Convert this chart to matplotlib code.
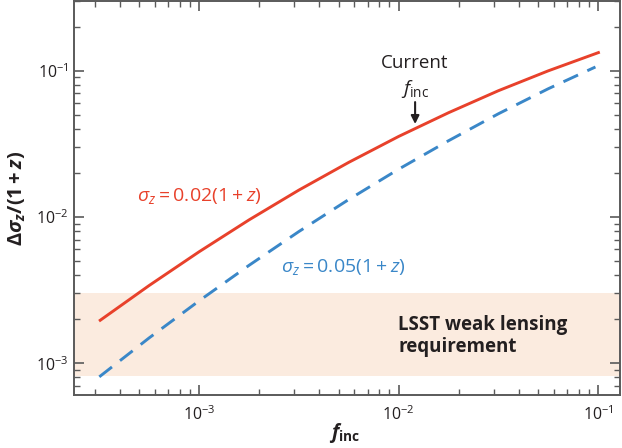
import matplotlib
matplotlib.use("Agg")
import matplotlib.pyplot as plt

# Valores
f_inc_002 = [3.15e-4, 5.62e-4, 1.0e-3, 1.78e-3, 3.16e-3, 5.62e-3, 1.0e-2, 1.78e-2,
             3.16e-2, 5.62e-2, 0.102]
dsig_002 = [1.94e-3, 3.40e-3, 5.78e-3, 9.55e-3, 1.525e-2, 2.36e-2, 3.55e-2, 5.16e-2,
            7.29e-2, 9.97e-2, 0.134]

f_inc_005 = [3.16e-4, 5.62e-4, 1.0e-3, 1.78e-3, 3.16e-3, 5.62e-3, 1.0e-2, 1.78e-2,
             3.16e-2, 5.62e-2, 9.7e-2]
dsig_005 = [8.07e-4, 1.49e-3, 2.67e-3, 4.67e-3, 7.94e-3, 1.315e-2, 2.12e-2, 3.32e-2,
            5.07e-2, 7.52e-2, 0.106]

# Banda del requisito de LSST
req_min, req_max = 8.15e-4, 3.0e-3
f_actual = 1.21e-2

ROJO = "#e8412b"
AZUL = "#3a87c8"
OSCURO = "#231f20"

plt.rcParams["font.family"] = ["Open Sans", "DejaVu Sans"]
plt.rcParams["mathtext.fontset"] = "custom"
plt.rcParams["mathtext.rm"] = "Open Sans"
plt.rcParams["mathtext.it"] = "Open Sans:italic"
plt.rcParams["mathtext.bf"] = "Open Sans:bold"
plt.rcParams["mathtext.bfit"] = "Open Sans:bold:italic"

fig = plt.figure(figsize=(6.22, 4.48), dpi=100)
ax = fig.add_axes([0.119, 0.118, 0.878, 0.88])

ax.axhspan(req_min, req_max, color="#fbebdf", lw=0, zorder=0)
ax.plot(f_inc_002, dsig_002, color=ROJO, lw=2.1, solid_capstyle="butt")
ax.plot(f_inc_005, dsig_005, color=AZUL, lw=2.1, dashes=(5.5, 3.5))

ax.set_xscale("log")
ax.set_yscale("log")
ax.set_xlim(2.36e-4, 0.129)
ax.set_ylim(6.05e-4, 0.30)

for s in ax.spines.values():
    s.set_color("#5a5a5a")
    s.set_linewidth(1.4)
ax.tick_params(which="both", direction="in", top=True, right=True,
               color="#5a5a5a", labelcolor=OSCURO, labelsize=11.5)
ax.tick_params(which="major", length=7, width=1.2)
ax.tick_params(which="minor", length=4.5, width=1.0)
ax.tick_params(axis="x", which="major", pad=7)
ax.tick_params(axis="y", which="major", pad=4)

ax.set_xlabel(r"$\mathbfit{f}_{\mathbf{inc}}$", fontsize=14, color=OSCURO)
ax.xaxis.set_label_coords(0.496, -0.066)
ax.set_ylabel(r"$\mathbf{\Delta}\mathbfit{\sigma_z}\mathbf{/(1+}\mathbfit{z}\mathbf{)}$",
              fontsize=14.5, color=OSCURO)
ax.yaxis.set_label_coords(-0.084, 0.5)

ax.text(4.89e-4, 0.0138, r"$\sigma_z = 0.02(1 + z)$", color=ROJO, fontsize=14,
        ha="left", va="center")
ax.text(2.58e-3, 4.52e-3, r"$\sigma_z = 0.05(1 + z)$", color=AZUL, fontsize=14,
        ha="left", va="center")

ax.text(f_actual, 0.1135, "Current", color=OSCURO, fontsize=13.5, ha="center", va="center")
ax.text(f_actual, 0.0753, r"$f_{\mathrm{inc}}$", color=OSCURO, fontsize=14,
        ha="center", va="center")
ax.annotate("", xy=(f_actual, 0.0432), xytext=(f_actual, 0.061),
            arrowprops=dict(arrowstyle="-|>", color=OSCURO, lw=1.5,
                            mutation_scale=12, shrinkA=0, shrinkB=0))

ax.text(0.00995, 1.54e-3, "LSST weak lensing\nrequirement", color=OSCURO,
        fontsize=13.5, fontweight="bold", ha="left", va="center", linespacing=1.1)

fig.savefig("out.png", dpi=100)
